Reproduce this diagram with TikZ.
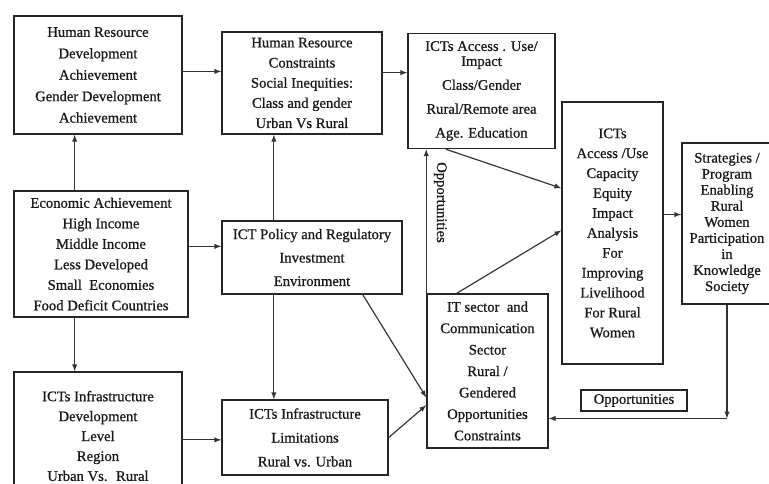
\documentclass[tikz,border=0pt]{standalone}
\usepackage{fontspec}
\setmainfont{Liberation Serif}[FakeBold=0.8]
\usetikzlibrary{arrows,calc}

\begin{document}
\begin{tikzpicture}[x=0.03cm, y=-0.03cm, >=latex,
	box/.style={draw=black!85, line width=1.3pt, text=black!90, align=center, inner sep=0pt},
	link/.style={->, draw=black!80, line width=1pt}]
	\useasboundingbox (0,0) rectangle (769,483);

	\node[box, minimum width=168*0.03cm, minimum height=118*0.03cm, font=\fontsize{12.5}{18.3}\selectfont] (hrd) at (98,75)
		{Human Resource\\ Development\\ Achievement\\ Gender Development\\ Achievement};
	\node[box, minimum width=160*0.03cm, minimum height=102*0.03cm, font=\fontsize{12.5}{17.2}\selectfont] (hrc) at (302,83)
		{Human Resource\\ Constraints\\ Social Inequities:\\ Class and gender\\ Urban Vs Rural};
	\node[box, minimum width=147*0.03cm, minimum height=115*0.03cm, font=\fontsize{12.5}{20.4}\selectfont] (acc) at (481.5,91)
		{ICTs Access . Use/\\[-7.6pt] Impact\\ Class/Gender\\ Rural/Remote area\\ Age. Education};
	\node[box, minimum width=101*0.03cm, minimum height=262*0.03cm, font=\fontsize{12.5}{17}\selectfont] (cap) at (612.5,233)
		{ICTs\\ Access /Use\\ Capacity\\ Equity\\ Impact\\ Analysis\\ For\\ Improving\\ Livelihood\\ For Rural\\ Women};
	\node[box, minimum width=90*0.03cm, minimum height=161*0.03cm, font=\fontsize{12.5}{13.7}\selectfont] (strat) at (727,223.5)
		{Strategies /\\ Program\\ Enabling\\ Rural\\ Women\\ Participation\\ in\\ Knowledge\\ Society};
	\node[box, minimum width=174*0.03cm, minimum height=126*0.03cm, font=\fontsize{12.5}{17.5}\selectfont] (eco) at (101,254)
		{Economic Achievement\\ High Income\\ Middle Income\\ Less Developed\\ Small \ Economies\\ Food Deficit Countries};
	\node[box, minimum width=180*0.03cm, minimum height=73*0.03cm, font=\fontsize{12.5}{20}\selectfont] (pol) at (312,257.5)
		{ICT Policy and Regulatory\\ Investment\\ Environment};
	\node[box, minimum width=168*0.03cm, minimum height=128*0.03cm, font=\fontsize{12.5}{17}\selectfont] (idev) at (98,436)
		{ICTs Infrastructure\\ Development\\ Level\\ Region\\ Urban Vs. \ Rural};
	\node[box, minimum width=166*0.03cm, minimum height=75*0.03cm, font=\fontsize{12.5}{20.4}\selectfont] (lim) at (305,437.5)
		{ICTs Infrastructure\\ Limitations\\ Rural vs. Urban};
	\node[box, minimum width=121*0.03cm, minimum height=154*0.03cm, font=\fontsize{12.5}{18.3}\selectfont] (its) at (487.5,371)
		{IT sector \ and\\ Communication\\ Sector\\ Rural /\\ Gendered\\ Opportunities\\ Constraints};
	\node[box, minimum width=106*0.03cm, minimum height=21*0.03cm, font=\fontsize{12.5}{15}\selectfont] (opp) at (634,400.5)
		{Opportunities};

	% links
	\draw[link] ($(hrd.north east)!.47!(hrd.south east)$) coordinate (h1) -- (h1 -| hrc.west);
	\draw[link] ($(hrc.north east)!.4!(hrc.south east)$) coordinate (h2) -- (h2 -| acc.west);
	\draw[link] ($(eco.north west)!.35!(eco.north east)$) coordinate (e1) -- (e1 |- hrd.south);
	\draw[link] ($(eco.south west)!.35!(eco.south east)$) coordinate (e2) -- (e2 |- idev.north);
	\draw[link] ($(eco.north east)!.44!(eco.south east)$) coordinate (e3) -- (e3 -| pol.west);
	\draw[link] ($(pol.north west)!.29!(pol.north east)$) coordinate (p1) -- (p1 |- hrc.south);
	\draw[link] ($(pol.south west)!.29!(pol.south east)$) coordinate (p2) -- (p2 |- lim.north);
	\draw[link] ($(idev.north east)!.53!(idev.south east)$) coordinate (d1) -- (d1 -| lim.west);
	\draw[link] (lim.east) -- ($(its.north west)!.72!(its.south west)$);
	\draw[link] ($(pol.south west)!.78!(pol.south east)$) -- ($(its.north west)!.67!(its.south west)$);
	\draw[link] (its.north west) -- (its.north west |- acc.south)
		node[pos=.63, xshift=12pt, rotate=-90, text=black!90, font=\fontsize{12.5}{15}\selectfont] {Opportunities};
	\draw[link] ($(acc.south west)!.26!(acc.south east)$) -- ($(cap.north west)!.33!(cap.south west)$);
	\draw[link] ($(its.north west)!.25!(its.north east)$) -- ($(cap.north west)!.49!(cap.south west)$);
	\draw[link] ($(cap.north east)!.43!(cap.south east)$) coordinate (c1) -- (c1 -| strat.west);
	\coordinate (back) at ($(its.north east)!.805!(its.south east)$);
	\draw[link] (strat.south) -- (strat.south |- back);
	\draw[link] (strat.south |- back) -- (back);
\end{tikzpicture}
\end{document}
